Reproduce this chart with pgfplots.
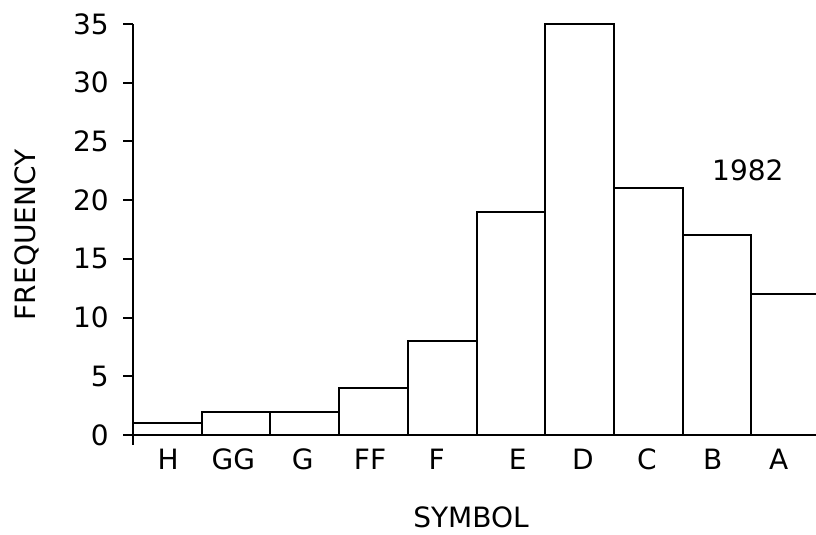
\documentclass[border=0pt]{standalone}
\usepackage{fontspec}
\setmainfont{DejaVu Sans}
\usepackage{pgfplots}
\pgfplotsset{compat=1.18}
\begin{document}
\fontsize{28}{33}\selectfont
\begin{tikzpicture}
\useasboundingbox (-133pt,-100pt) rectangle (683pt,435pt);
\begin{axis}[
  at={(0,0)}, anchor=south west,
  scale only axis, width=687pt, height=411pt,
  xmin=0, xmax=10, ymin=0, ymax=35,
  axis x line=bottom, axis y line=left,
  axis line style={-, line width=2pt, black},
  clip=false,
  /pgf/number format/assume math mode=true,
  ytick={0,5,...,35},
  tick align=outside, major tick length=10pt,
  tick style={line width=2pt, black},
  xtick={0.51,1.46,2.47,3.45,4.42,5.60,6.55,7.48,8.44,9.40},
  xticklabels={H,GG,G,FF,F,E,D,C,B,A},
  xtick style={draw=none},
  xticklabel style={anchor=north, inner sep=0pt, yshift=-4pt},
  yticklabel style={anchor=east, inner sep=0pt, xshift=-14pt},
  xlabel={SYMBOL}, ylabel={FREQUENCY},
  every axis x label/.style={at={(axis description cs:0.492,0)}, anchor=center, yshift=-82pt},
  every axis y label/.style={at={(axis description cs:0,0.487)}, xshift=-106pt, rotate=90, anchor=center},
]
\addplot[ybar, bar width=1, bar shift=0, fill=white, draw=black, line width=2pt]
  coordinates {(0.5,1) (1.5,2) (2.5,2) (3.5,4) (4.5,8) (5.5,19) (6.5,35) (7.5,21) (8.5,17) (9.5,12)};
\draw[line width=2pt] (axis cs:0,0) -- ++(0,-10pt);
\node at (axis cs:8.95,22.57) {1982};
\end{axis}
\end{tikzpicture}
\end{document}
